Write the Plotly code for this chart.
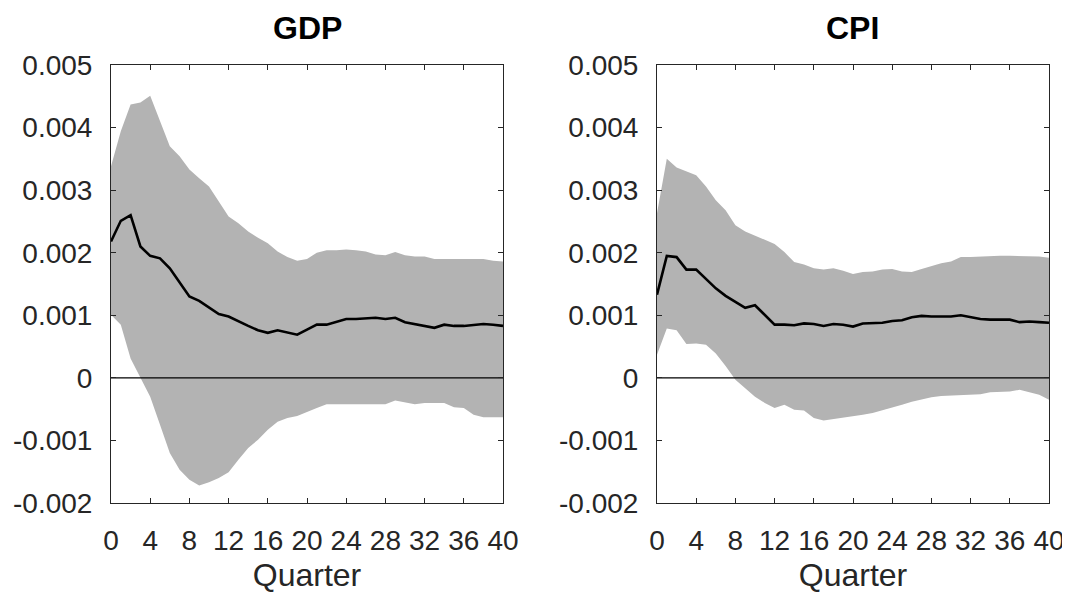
import plotly.graph_objects as go

quarters = list(range(41))

gdp_median = [2.18, 2.51, 2.60, 2.10, 1.95, 1.91, 1.75, 1.53, 1.30, 1.23, 1.12, 1.02, 0.98, 0.90, 0.83,
              0.76, 0.72, 0.76, 0.72, 0.69, 0.77, 0.85, 0.85, 0.89, 0.94, 0.94, 0.95, 0.96, 0.94, 0.96,
              0.89, 0.86, 0.83, 0.80, 0.85, 0.83, 0.83, 0.84, 0.86, 0.85, 0.83]
gdp_upper = [3.38, 3.94, 4.37, 4.40, 4.51, 4.11, 3.70, 3.54, 3.33, 3.19, 3.06, 2.82, 2.58, 2.47, 2.34,
             2.24, 2.15, 2.02, 1.93, 1.87, 1.90, 2.00, 2.04, 2.04, 2.05, 2.04, 2.02, 1.97, 1.96, 2.01,
             1.96, 1.94, 1.94, 1.90, 1.90, 1.90, 1.90, 1.90, 1.90, 1.87, 1.86]
gdp_lower = [1.01, 0.85, 0.31, 0.00, -0.30, -0.75, -1.20, -1.47, -1.63, -1.72, -1.67, -1.60, -1.51, -1.31, -1.12,
             -0.99, -0.83, -0.70, -0.64, -0.61, -0.54, -0.48, -0.42, -0.42, -0.42, -0.42, -0.42, -0.42, -0.42, -0.36,
             -0.39, -0.42, -0.40, -0.40, -0.40, -0.47, -0.48, -0.59, -0.63, -0.63, -0.63]

cpi_median = [1.33, 1.95, 1.93, 1.73, 1.73, 1.58, 1.43, 1.31, 1.22, 1.12, 1.16, 1.00, 0.85, 0.85, 0.84,
              0.87, 0.86, 0.83, 0.86, 0.85, 0.82, 0.87, 0.88, 0.88, 0.91, 0.92, 0.97, 0.99, 0.98, 0.98,
              0.98, 1.00, 0.97, 0.94, 0.93, 0.93, 0.93, 0.89, 0.90, 0.89, 0.88]
cpi_upper = [2.63, 3.50, 3.36, 3.30, 3.24, 3.06, 2.84, 2.68, 2.44, 2.34, 2.27, 2.20, 2.14, 2.01, 1.85,
             1.81, 1.75, 1.73, 1.75, 1.71, 1.66, 1.69, 1.70, 1.73, 1.74, 1.70, 1.69, 1.74, 1.79, 1.83,
             1.86, 1.93, 1.93, 1.94, 1.95, 1.95, 1.95, 1.95, 1.95, 1.94, 1.92]
cpi_lower = [0.37, 0.79, 0.76, 0.54, 0.55, 0.53, 0.39, 0.19, -0.03, -0.17, -0.30, -0.40, -0.48, -0.43, -0.51,
             -0.52, -0.64, -0.68, -0.66, -0.63, -0.62, -0.59, -0.56, -0.52, -0.48, -0.43, -0.38, -0.34, -0.31, -0.29,
             -0.28, -0.27, -0.27, -0.26, -0.23, -0.22, -0.22, -0.19, -0.23, -0.27, -0.35]

panels = [("GDP", gdp_median, gdp_upper, gdp_lower), ("CPI", cpi_median, cpi_upper, cpi_lower)]

x_tick_vals = list(range(0, 41, 4))
y_tick_vals = [-0.002, -0.001, 0, 0.001, 0.002, 0.003, 0.004, 0.005]
y_tick_text = ["-0.002", "-0.001", "0", "0.001", "0.002", "0.003", "0.004", "0.005"]

W, H = 1070, 596
OFF = 8  # page body margin
x_domains = [[(111 - OFF) / W, (503 - OFF) / W], [(657 - OFF) / W, (1049 - OFF) / W]]
y_domain = [(H - (503 - OFF)) / H, (H - (65 - OFF)) / H]

font_family = "Liberation Sans, Arial, sans-serif"
axis_color = "#262626"
tick_size = 28
label_size = 32
title_size = 32

fig = go.Figure()
scale = 1e-3
for i, (name, med, up, lo) in enumerate(panels):
    xa = "x" if i == 0 else "x2"
    ya = "y" if i == 0 else "y2"
    fig.add_trace(go.Scatter(x=quarters, y=[v * scale for v in lo], mode="lines",
                             line=dict(width=0, color="#b3b3b3"), xaxis=xa, yaxis=ya,
                             showlegend=False, hoverinfo="skip"))
    fig.add_trace(go.Scatter(x=quarters, y=[v * scale for v in up], mode="lines",
                             line=dict(width=0, color="#b3b3b3"), fill="tonexty",
                             fillcolor="#b3b3b3", xaxis=xa, yaxis=ya, showlegend=False,
                             hoverinfo="skip"))
    fig.add_trace(go.Scatter(x=[0, 40], y=[0, 0], mode="lines",
                             line=dict(width=1.2, color="black"), xaxis=xa, yaxis=ya,
                             showlegend=False))
    fig.add_trace(go.Scatter(x=quarters, y=[v * scale for v in med], mode="lines",
                             line=dict(width=2.6, color="black"), xaxis=xa, yaxis=ya,
                             showlegend=False, name=name))
    fig.add_annotation(text="<b>" + name + "</b>", xref="paper", yref="paper",
                       x=sum(x_domains[i]) / 2, y=(H - (28 - OFF)) / H, xanchor="center",
                       yanchor="middle", showarrow=False,
                       font=dict(family=font_family, size=title_size, color="black"))

axis_common = dict(showline=True, linecolor=axis_color, linewidth=1, mirror="ticks",
                   ticks="inside", ticklen=5, tickcolor=axis_color, showgrid=False,
                   zeroline=False, automargin=False,
                   tickfont=dict(family=font_family, size=tick_size, color=axis_color))

layout = dict(width=W, height=H, margin=dict(l=0, r=0, t=0, b=0),
              plot_bgcolor="white", paper_bgcolor="white", showlegend=False)
for i in range(2):
    sfx = "" if i == 0 else "2"
    layout["xaxis" + sfx] = dict(axis_common, domain=x_domains[i], range=[0, 40],
                                 tickvals=x_tick_vals, anchor="y" + sfx,
                                 ticklabelstandoff=12,
                                 title=dict(text="Quarter", standoff=9,
                                            font=dict(family=font_family, size=label_size, color=axis_color)))
    layout["yaxis" + sfx] = dict(axis_common, domain=y_domain, range=[-0.002, 0.005],
                                 tickvals=y_tick_vals, ticktext=y_tick_text, anchor="x" + sfx,
                                 ticklabelstandoff=12)
fig.update_layout(**layout)

fig.write_html("out.html")
